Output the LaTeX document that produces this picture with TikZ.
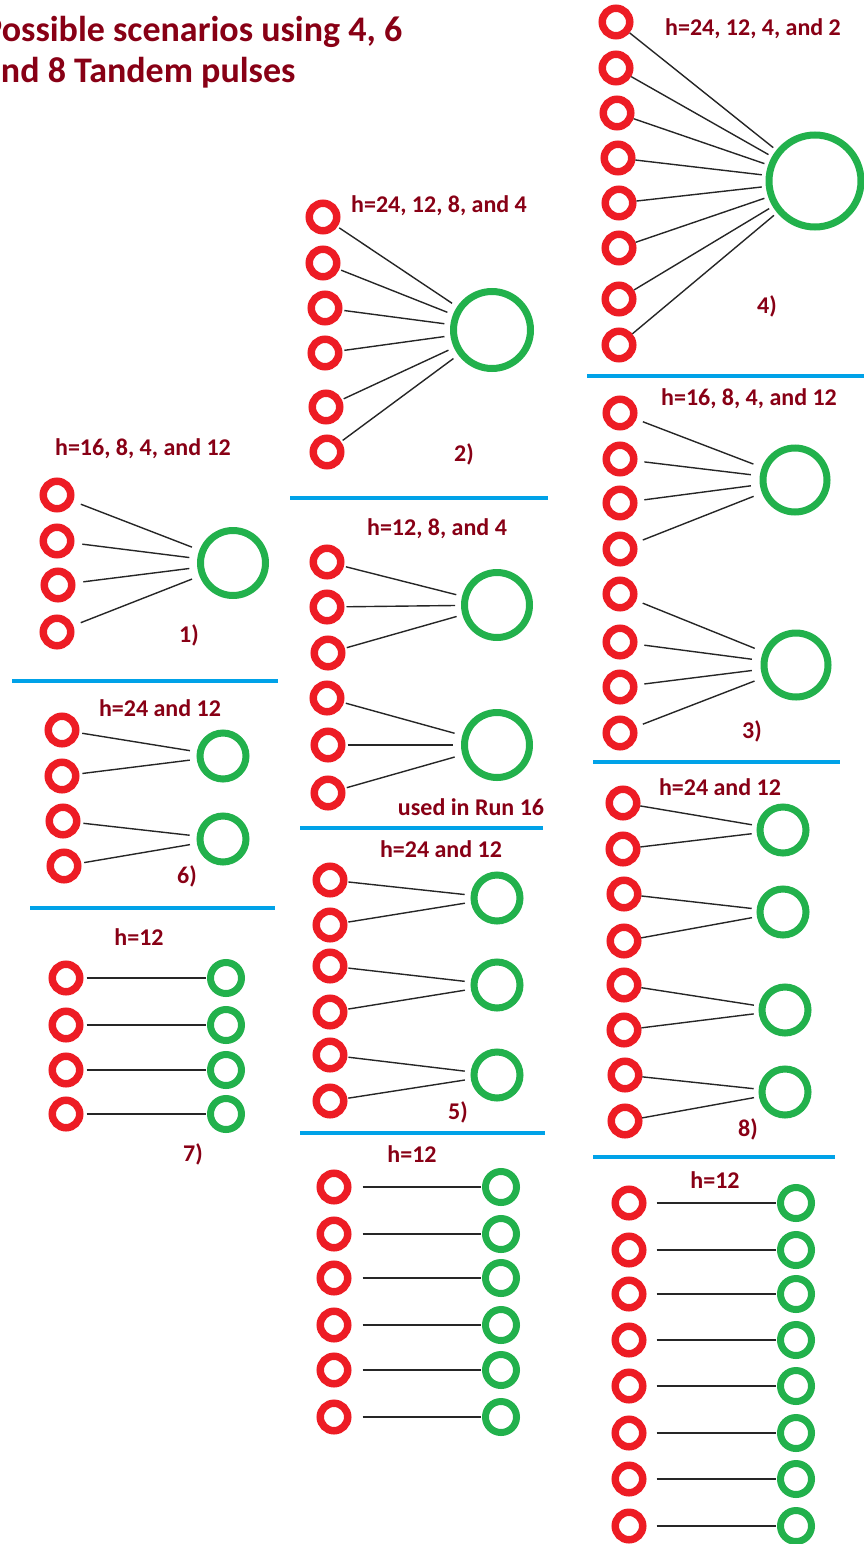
\documentclass[tikz,border=0pt]{standalone}
\usepackage{fontspec}
\setmainfont{Carlito}
\definecolor{ringred}{HTML}{ED1C24}
\definecolor{ringgreen}{HTML}{22B14C}
\definecolor{rulecyan}{HTML}{00A2E8}
\definecolor{inkred}{HTML}{880015}
\tikzset{
  src/.style={circle, draw=ringred, line width=7.5pt, minimum size=27.5pt, inner sep=0pt},
  sink/.style={circle, draw=ringgreen, line width=7pt, minimum size=#1, inner sep=0pt},
  wire/.style={draw=black!85, line width=1.4pt},
  divider/.style={draw=rulecyan, line width=4pt},
  caption/.style={text=inkred, font=\bfseries\fontsize{24}{28}\selectfont, anchor=base, inner sep=0pt},
  headline/.style={text=inkred, font=\bfseries\fontsize{36}{41}\selectfont, anchor=base west, inner sep=0pt},
}
\begin{document}
\begin{tikzpicture}[x=1pt, y=-1pt]
\path[use as bounding box, clip] (0,0) rectangle (864,1544);

% ---------- title (runs off the left edge of the page) ----------
\node[headline] (title1) at (-17,42) {Possible scenarios using 4, 6};
\node[headline] (title2) at (-17,83) {and 8 Tandem pulses};

% ---------- 1) four pulses into one ----------
\node[caption] (one-h) at (143,455) {h=16, 8, 4, and 12};
\foreach \x/\y [count=\i] in {57/495,57/541,58/585,57/632}
  \node[src] (one-r\i) at (\x,\y) {};
\node[sink=65pt] (one-g) at (233,563) {};
\foreach \i in {1,...,4}
  \draw[wire, shorten <=8pt, shorten >=8pt] (one-r\i) -- (one-g);
\node[caption] (one-n) at (189,642) {1)};
\draw[divider] (12,681) coordinate (one-a) -- (278,681) coordinate (one-b);

% ---------- 6) four pulses into two ----------
\node[caption] (six-h) at (160,716) {h=24 and 12};
\foreach \x/\y [count=\i] in {62/730,62/776,63/821,64/866}
  \node[src] (six-r\i) at (\x,\y) {};
\node[sink=46pt] (six-g1) at (223,756) {};
\node[sink=46pt] (six-g2) at (223,839) {};
\draw[wire, shorten <=3pt, shorten >=7pt] (six-r1) -- (six-g1);
\draw[wire, shorten <=3pt, shorten >=7pt] (six-r2) -- (six-g1);
\draw[wire, shorten <=3pt, shorten >=7pt] (six-r3) -- (six-g2);
\draw[wire, shorten <=3pt, shorten >=7pt] (six-r4) -- (six-g2);
\node[caption] (six-n) at (187,883) {6)};
\draw[divider] (30,908) coordinate (six-a) -- (275,908) coordinate (six-b);

% ---------- 7) four pulses, one to one ----------
\node[caption] (seven-h) at (139,945) {h=12};
\foreach \y [count=\i] in {978,1025,1070,1114} {
  \node[src] (seven-r\i) at (66,\y) {};
  \node[sink=31pt] (seven-g\i) at (226,\y) {};
  \draw[wire, shorten <=3pt, shorten >=1pt] (seven-r\i) -- (seven-g\i);
}
\node[caption] (seven-n) at (193,1161) {7)};

% ---------- 2) six pulses into one ----------
\node[caption] (two-h) at (439,212) {h=24, 12, 8, and 4};
\foreach \x/\y [count=\i] in {323/217,323/263,325/308,325/353,326/407,327/452}
  \node[src] (two-r\i) at (\x,\y) {};
\node[sink=77pt] (two-g) at (492,330) {};
\foreach \i in {1,...,6}
  \draw[wire, shorten <=2pt, shorten >=6pt] (two-r\i) -- (two-g);
\node[caption] (two-n) at (464,461) {2)};
\draw[divider] (290,498) coordinate (two-a) -- (548,498) coordinate (two-b);

% ---------- six pulses into two (used in Run 16) ----------
\node[caption] (run-h) at (437,535) {h=12, 8, and 4};
\foreach \x/\y [count=\i] in {327/562,327/607,328/653,327/698,328/745,328/793}
  \node[src] (run-r\i) at (\x,\y) {};
\node[sink=65pt] (run-g1) at (497,605) {};
\node[sink=65pt] (run-g2) at (497,745) {};
\foreach \i in {1,2,3}
  \draw[wire, shorten <=2pt, shorten >=6pt] (run-r\i) -- (run-g1);
\foreach \i in {4,5,6}
  \draw[wire, shorten <=2pt, shorten >=8pt] (run-r\i) -- (run-g2);
\node[caption] (run-n) at (471,815) {used in Run 16};
\draw[divider] (300,828) coordinate (run-a) -- (543,828) coordinate (run-b);

% ---------- 5) six pulses into three ----------
\node[caption] (five-h) at (441,857) {h=24 and 12};
\foreach \y [count=\i] in {880,925,966,1012,1055,1101}
  \node[src] (five-r\i) at (330,\y) {};
\node[sink=46pt] (five-g1) at (497,898) {};
\node[sink=46pt] (five-g2) at (497,985) {};
\node[sink=46pt] (five-g3) at (497,1075) {};
\draw[wire, shorten <=1pt, shorten >=6pt] (five-r1) -- (five-g1);
\draw[wire, shorten <=1pt, shorten >=6pt] (five-r2) -- (five-g1);
\draw[wire, shorten <=1pt, shorten >=6pt] (five-r3) -- (five-g2);
\draw[wire, shorten <=1pt, shorten >=6pt] (five-r4) -- (five-g2);
\draw[wire, shorten <=1pt, shorten >=6pt] (five-r5) -- (five-g3);
\draw[wire, shorten <=1pt, shorten >=6pt] (five-r6) -- (five-g3);
\node[caption] (five-n) at (458,1119) {5)};
\draw[divider] (300,1133) coordinate (five-a) -- (545,1133) coordinate (five-b);

% ---------- six pulses, one to one ----------
\node[caption] (midh-h) at (412,1162) {h=12};
\foreach \y [count=\i] in {1187,1234,1278,1325,1370,1417} {
  \node[src] (midh-r\i) at (334,\y) {};
  \node[sink=31pt] (midh-g\i) at (501,\y) {};
  \draw[wire, shorten <=11pt, shorten >=1pt] (midh-r\i) -- (midh-g\i);
}

% ---------- 4) eight pulses into one ----------
\node[caption] (four-h) at (753,36) {h=24, 12, 4, and 2};
\foreach \x/\y [count=\i] in {616/22,616/68,617/113,618/158,619/203,619/248,619/299,619/345}
  \node[src] (four-r\i) at (\x,\y) {};
\node[sink=92pt] (four-g) at (815,181) {};
\foreach \i in {1,...,8}
  \draw[wire, shorten <=0pt, shorten >=4pt] (four-r\i) -- (four-g);
\node[caption] (four-n) at (767,313) {4)};
\draw[divider] (587,376) coordinate (four-a) -- (866,376) coordinate (four-b);

% ---------- 3) eight pulses into two ----------
\node[caption] (three-h) at (749,405) {h=16, 8, 4, and 12};
\foreach \y [count=\i] in {413,459,503,549,594,642,687,733}
  \node[src] (three-r\i) at (620,\y) {};
\node[sink=64pt] (three-g1) at (795,480) {};
\node[sink=64pt] (three-g2) at (796,665) {};
\foreach \i in {1,...,4}
  \draw[wire, shorten <=7pt, shorten >=9pt] (three-r\i) -- (three-g1);
\foreach \i in {5,...,8}
  \draw[wire, shorten <=7pt, shorten >=9pt] (three-r\i) -- (three-g2);
\node[caption] (three-n) at (752,738) {3)};
\draw[divider] (593,762) coordinate (three-a) -- (840,762) coordinate (three-b);

% ---------- 8) eight pulses into four ----------
\node[caption] (eight-h) at (720,795) {h=24 and 12};
\foreach \x/\y [count=\i] in {623/803,623/849,624/894,624/941,624/985,624/1030,625/1075,625/1121}
  \node[src] (eight-r\i) at (\x,\y) {};
\node[sink=46pt] (eight-g1) at (783,830) {};
\node[sink=46pt] (eight-g2) at (783,912) {};
\node[sink=46pt] (eight-g3) at (785,1010) {};
\node[sink=46pt] (eight-g4) at (785,1092) {};
\foreach \i/\j in {1/1,2/1,3/2,4/2,5/3,6/3,7/4,8/4}
  \draw[wire, shorten <=0pt, shorten >=5pt] (eight-r\i) -- (eight-g\j);
\node[caption] (eight-n) at (748,1136) {8)};
\draw[divider] (593,1157) coordinate (eight-a) -- (835,1157) coordinate (eight-b);

% ---------- eight pulses, one to one ----------
\node[caption] (righth-h) at (715,1188) {h=12};
\foreach \y [count=\i] in {1203,1250,1294,1340,1386,1433,1479,1526} {
  \node[src] (righth-r\i) at (629,\y) {};
  \node[sink=31pt] (righth-g\i) at (796,\y) {};
  \draw[wire, shorten <=10pt, shorten >=1pt] (righth-r\i) -- (righth-g\i);
}
\end{tikzpicture}
\end{document}
